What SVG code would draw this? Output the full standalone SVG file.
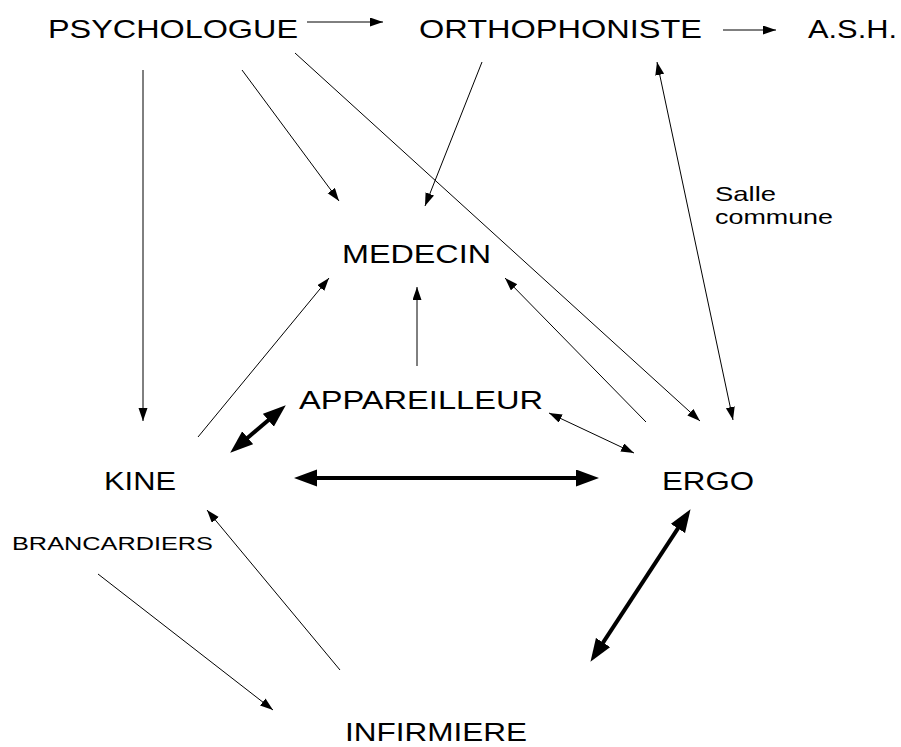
<svg xmlns="http://www.w3.org/2000/svg" width="901" height="747" viewBox="0 0 901 747">
<style>
text{font-family:"Liberation Sans",Arial,sans-serif;fill:#000}
.n{font-size:25px}
.s{font-size:19px}
.c{font-size:21px}
.thin{stroke:#000;stroke-width:1;fill:none;marker-end:url(#ah)}
.thin2{stroke:#000;stroke-width:1;fill:none;marker-end:url(#ah);marker-start:url(#ah)}
.thick{stroke:#000;stroke-width:4;fill:none;marker-end:url(#bh);marker-start:url(#bh)}
</style>
<defs>
<marker id="ah" markerUnits="userSpaceOnUse" markerWidth="14" markerHeight="10" refX="13" refY="4.5" orient="auto-start-reverse" viewBox="0 0 14 10"><path d="M0,0 L13,4.5 L0,9 z" fill="#000"/></marker>
<marker id="bh" markerUnits="userSpaceOnUse" markerWidth="24" markerHeight="18" refX="12" refY="8.5" orient="auto-start-reverse" viewBox="0 0 24 18"><path d="M0,0 L23,8.5 L0,17 z" fill="#000"/></marker>
</defs>
<rect width="901" height="747" fill="#fff"/>
<g id="psychologue"><text class="n" x="48" y="38" textLength="250" lengthAdjust="spacingAndGlyphs">PSYCHOLOGUE</text></g>
<g id="orthophoniste"><text class="n" x="419" y="38" textLength="283" lengthAdjust="spacingAndGlyphs">ORTHOPHONISTE</text></g>
<g id="ash"><text class="n" x="808" y="38" textLength="89" lengthAdjust="spacingAndGlyphs">A.S.H.</text></g>
<g id="salle"><text class="c" x="715" y="201" textLength="61" lengthAdjust="spacingAndGlyphs">Salle</text><text class="c" x="715" y="224" textLength="118" lengthAdjust="spacingAndGlyphs">commune</text></g>
<g id="medecin"><text class="n" x="342" y="263" textLength="149" lengthAdjust="spacingAndGlyphs">MEDECIN</text></g>
<g id="appareilleur"><text class="n" x="299" y="409" textLength="244" lengthAdjust="spacingAndGlyphs">APPAREILLEUR</text></g>
<g id="kine"><text class="n" x="104" y="490" textLength="72" lengthAdjust="spacingAndGlyphs">KINE</text></g>
<g id="ergo"><text class="n" x="662" y="490" textLength="92" lengthAdjust="spacingAndGlyphs">ERGO</text></g>
<g id="brancardiers"><text class="s" x="12" y="550" textLength="201" lengthAdjust="spacingAndGlyphs">BRANCARDIERS</text></g>
<g id="infirmiere"><text class="n" x="345" y="741" textLength="182" lengthAdjust="spacingAndGlyphs">INFIRMIERE</text></g>
<g id="connectors">
<line class="thin" x1="307" y1="22" x2="383" y2="22"/>
<line class="thin" x1="723" y1="30" x2="776" y2="30"/>
<line class="thin" x1="143" y1="70" x2="143" y2="421"/>
<line class="thin" x1="242" y1="70" x2="339" y2="201"/>
<line class="thin" x1="295" y1="53" x2="700" y2="421"/>
<line class="thin" x1="482" y1="62" x2="425" y2="206"/>
<line class="thin2" x1="657" y1="62" x2="733" y2="420"/>
<line class="thin" x1="198" y1="437" x2="329" y2="278"/>
<line class="thin" x1="417" y1="366" x2="417" y2="287"/>
<line class="thin" x1="646" y1="422" x2="505" y2="278"/>
<line class="thin2" x1="549" y1="413" x2="634" y2="453"/>
<line class="thin" x1="340" y1="670" x2="207" y2="510"/>
<line class="thin" x1="98" y1="574" x2="273" y2="710"/>
<line class="thick" x1="238.6" y1="445.5" x2="277.4" y2="412.5"/>
<line class="thick" x1="305" y1="478" x2="588" y2="478"/>
<line class="thick" x1="596.5" y1="652.6" x2="684.5" y2="518.4"/>
</g>
</svg>
